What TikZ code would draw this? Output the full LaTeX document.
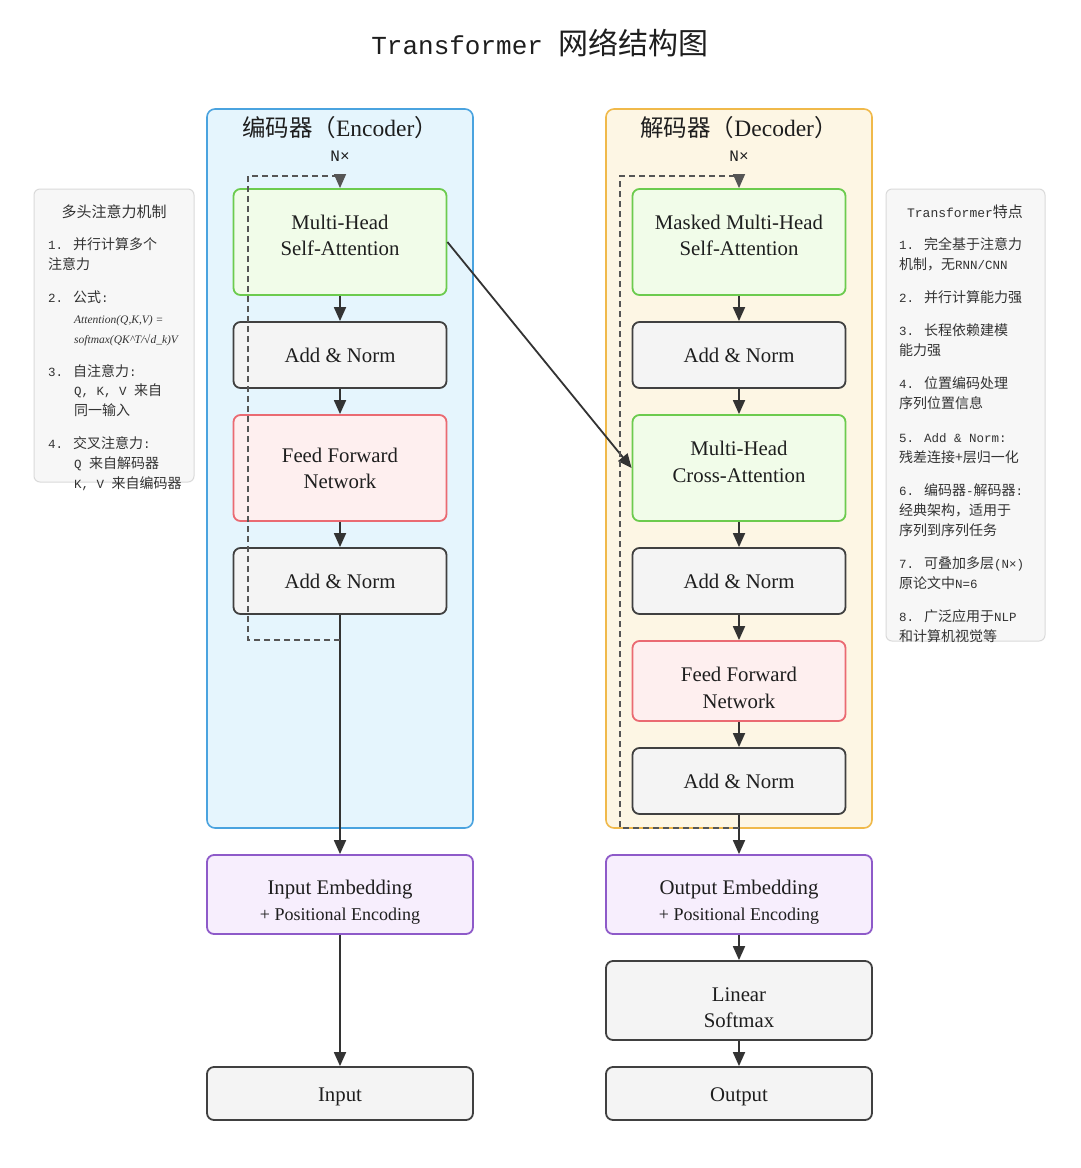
\documentclass[tikz,border=0pt]{standalone}
\usepackage{fontspec}
\setmainfont{Liberation Serif}
\newfontfamily\cjk{Noto Sans CJK SC}
\newfontfamily\mono{Liberation Mono}
\usetikzlibrary{arrows.meta}
\definecolor{encfill}{HTML}{E5F5FD}
\definecolor{encborder}{HTML}{4AA3DF}
\definecolor{decfill}{HTML}{FDF6E4}
\definecolor{decborder}{HTML}{F0B94A}
\definecolor{gfill}{HTML}{F1FCE9}
\definecolor{gborder}{HTML}{6CCB4E}
\definecolor{nfill}{HTML}{F4F4F4}
\definecolor{nborder}{HTML}{404040}
\definecolor{rfill}{HTML}{FEEFEF}
\definecolor{rborder}{HTML}{EA6A72}
\definecolor{pufill}{HTML}{F7EEFD}
\definecolor{puborder}{HTML}{8E5AC9}
\definecolor{pfill}{HTML}{F7F7F7}
\definecolor{pborder}{HTML}{DADADA}
\definecolor{arrc}{HTML}{333333}
\definecolor{dashc}{HTML}{555555}
\definecolor{txt}{HTML}{1E1E1E}
\definecolor{ptext}{HTML}{333333}
\newcommand\m[1]{{\mono\fontsize{12.5}{18}\selectfont #1}}
\newcommand\fm[1]{{\rmfamily\itshape\fontsize{11.5}{18}\selectfont #1}}
\begin{document}
\begin{tikzpicture}[x=1pt,y=-1pt,
  container/.style={draw, line width=1.6pt, rounded corners=8pt, inner sep=0, minimum width=266pt, minimum height=719pt},
  box/.style={draw, line width=1.8pt, rounded corners=7pt, inner sep=0, minimum width=213pt},
  widebox/.style={box, minimum width=266pt},
  gbox/.style={fill=gfill, draw=gborder},
  nbox/.style={fill=nfill, draw=nborder},
  rbox/.style={fill=rfill, draw=rborder},
  pubox/.style={fill=pufill, draw=puborder},
  tip/.style={-{Triangle[length=14pt,width=12pt]}},
  arr/.style={draw=arrc, line width=1.8pt, tip},
  loopline/.style={draw=dashc, line width=1.3pt, dash pattern=on 6pt off 4pt},
  lbl/.style={text=txt, inner sep=0, font=\fontsize{20.8}{26}\selectfont, text height=14pt, text depth=0pt},
  slbl/.style={text=txt, inner sep=0, font=\fontsize{18}{22}\selectfont, text height=12pt, text depth=0pt},
  panel/.style={draw=pborder, fill=pfill, line width=1pt, rounded corners=6pt, inner sep=0},
  ptitle/.style={text=ptext, inner sep=0, font=\cjk\fontsize{15}{18}\selectfont, text height=12pt, text depth=0pt},
  ptxt/.style={anchor=west, text=ptext, inner sep=0, font=\cjk\fontsize{14}{18}\selectfont, text height=11pt, text depth=0pt},
]
\fill[white] (0,0) rectangle (1080,1168);
\useasboundingbox (0,0) rectangle (1080,1168);

% title
\node[text=txt, inner sep=0, text height=18pt, text depth=0pt] (title) at (540,45)
  {{\mono\fontsize{26}{30}\selectfont Transformer }{\cjk\fontsize{30}{30}\selectfont 网络结构图}};

% containers
\node[container, fill=encfill, draw=encborder] (enc) at (340,468.5) {};
\node[container, fill=decfill, draw=decborder] (dec) at (739,468.5) {};
\node[text=txt, inner sep=0, text height=16pt, text depth=0pt] (enct) at (340,128)
  {\fontsize{23.5}{26}\selectfont{\cjk 编码器（}Encoder{\cjk ）}};
\node[text=txt, inner sep=0, text height=16pt, text depth=0pt] (dect) at (739,128)
  {\fontsize{23.5}{26}\selectfont{\cjk 解码器（}Decoder{\cjk ）}};
\node[text=txt, inner sep=0, text height=10pt, text depth=0pt] (encn) at (340,156)
  {\mono\fontsize{16}{18}\selectfont N×};
\node[text=txt, inner sep=0, text height=10pt, text depth=0pt] (decn) at (739,156)
  {\mono\fontsize{16}{18}\selectfont N×};

% encoder boxes
\node[box, gbox, minimum height=106pt] (eMHA) at (340,242) {};
\node[box, nbox, minimum height=66pt] (eAN1) at (340,355) {};
\node[box, rbox, minimum height=106pt] (eFFN) at (340,468) {};
\node[box, nbox, minimum height=66pt] (eAN2) at (340,581) {};
\node[lbl] (eMHAa) at (340,222) {Multi-Head};
\node[lbl] (eMHAb) at (340,248) {Self-Attention};
\node[lbl] (eAN1t) at (340,355) {Add \& Norm};
\node[lbl] (eFFNa) at (340,455) {Feed Forward};
\node[lbl] (eFFNb) at (340,481) {Network};
\node[lbl] (eAN2t) at (340,581) {Add \& Norm};

% decoder boxes
\node[box, gbox, minimum height=106pt] (dMMHA) at (739,242) {};
\node[box, nbox, minimum height=66pt] (dAN1) at (739,355) {};
\node[box, gbox, minimum height=106pt] (dCA) at (739,468) {};
\node[box, nbox, minimum height=66pt] (dAN2) at (739,581) {};
\node[box, rbox, minimum height=80pt] (dFFN) at (739,681) {};
\node[box, nbox, minimum height=66pt] (dAN3) at (739,781) {};
\node[lbl] (dMMHAa) at (739,222) {Masked Multi-Head};
\node[lbl] (dMMHAb) at (739,248) {Self-Attention};
\node[lbl] (dAN1t) at (739,355) {Add \& Norm};
\node[lbl] (dCAa) at (739,448) {Multi-Head};
\node[lbl] (dCAb) at (739,475) {Cross-Attention};
\node[lbl] (dAN2t) at (739,581) {Add \& Norm};
\node[lbl] (dFFNa) at (739,674) {Feed Forward};
\node[lbl] (dFFNb) at (739,701) {Network};
\node[lbl] (dAN3t) at (739,781) {Add \& Norm};

% bottom boxes
\node[widebox, pubox, minimum height=79pt] (inEmb) at (340,894.5) {};
\node[widebox, pubox, minimum height=79pt] (outEmb) at (739,894.5) {};
\node[widebox, nbox, minimum height=79pt] (lin) at (739,1000.5) {};
\node[widebox, nbox, minimum height=53pt] (inp) at (340,1093.5) {};
\node[widebox, nbox, minimum height=53pt] (outp) at (739,1093.5) {};
\node[lbl] (inEmba) at (340,887) {Input Embedding};
\node[slbl] (inEmbb) at (340,914) {+ Positional Encoding};
\node[lbl] (outEmba) at (739,887) {Output Embedding};
\node[slbl] (outEmbb) at (739,914) {+ Positional Encoding};
\node[lbl] (lina) at (739,994) {Linear};
\node[lbl] (linb) at (739,1020) {Softmax};
\node[lbl] (inpt) at (340,1094) {Input};
\node[lbl] (outpt) at (739,1094) {Output};

% arrows
\draw[arr] (eMHA) -- (eAN1);
\draw[arr] (eAN1) -- (eFFN);
\draw[arr] (eFFN) -- (eAN2);
\draw[arr] (eAN2) -- (inEmb);
\draw[arr] (inEmb) -- (inp);
\draw[arr] (dMMHA) -- (dAN1);
\draw[arr] (dAN1) -- (dCA);
\draw[arr] (dCA) -- (dAN2);
\draw[arr] (dAN2) -- (dFFN);
\draw[arr] (dFFN) -- (dAN3);
\draw[arr] (dAN3) -- (outEmb);
\draw[arr] (outEmb) -- (lin);
\draw[arr] (lin) -- (outp);
\draw[arr] (eMHA.east) -- (dCA.west);

% dashed loops
\coordinate (eLa) at (340,640);
\coordinate (eLb) at (248,640);
\coordinate (eLc) at (248,176);
\draw[loopline, tip] (eLa) -- (eLb) -- (eLc) -| (eMHA.north);
\coordinate (dLa) at (739,828);
\coordinate (dLb) at (620,828);
\coordinate (dLc) at (620,176);
\draw[loopline, tip] (dLa) -- (dLb) -- (dLc) -| (dMMHA.north);

% left panel
\node[panel, minimum width=160pt, minimum height=293pt] (lp) at (114,335.5) {};
\node[ptitle] (lpt) at (114,211) {多头注意力机制};
\node[ptxt] (l1a) at (48,244) {\m{1. }并行计算多个};
\node[ptxt] (l1b) at (48,264) {注意力};
\node[ptxt] (l2a) at (48,297) {\m{2. }公式\m{:}};
\node[ptxt] (l2b) at (74,318) {\fm{Attention(Q,K,V) =}};
\node[ptxt] (l2c) at (74,338) {\fm{softmax(QK\textasciicircum T/√d\_k)V}};
\node[ptxt] (l3a) at (48,371) {\m{3. }自注意力\m{:}};
\node[ptxt] (l3b) at (74,390) {\m{Q, K, V }来自};
\node[ptxt] (l3c) at (74,410) {同一输入};
\node[ptxt] (l4a) at (48,443) {\m{4. }交叉注意力\m{:}};
\node[ptxt] (l4b) at (74,463) {\m{Q }来自解码器};
\node[ptxt] (l4c) at (74,483) {\m{K, V }来自编码器};

% right panel
\node[panel, minimum width=159pt, minimum height=452pt] (rp) at (965.5,415) {};
\node[ptitle] (rpt) at (965,211) {{\mono\fontsize{13}{18}\selectfont Transformer}特点};
\node[ptxt] (r1a) at (899,244) {\m{1. }完全基于注意力};
\node[ptxt] (r1b) at (899,264) {机制，无\m{RNN/CNN}};
\node[ptxt] (r2a) at (899,297) {\m{2. }并行计算能力强};
\node[ptxt] (r3a) at (899,330) {\m{3. }长程依赖建模};
\node[ptxt] (r3b) at (899,350) {能力强};
\node[ptxt] (r4a) at (899,383) {\m{4. }位置编码处理};
\node[ptxt] (r4b) at (899,403) {序列位置信息};
\node[ptxt] (r5a) at (899,437) {\m{5. Add \& Norm:}};
\node[ptxt] (r5b) at (899,457) {残差连接+层归一化};
\node[ptxt] (r6a) at (899,490) {\m{6. }编码器\m{-}解码器\m{:}};
\node[ptxt] (r6b) at (899,510) {经典架构，适用于};
\node[ptxt] (r6c) at (899,530) {序列到序列任务};
\node[ptxt] (r7a) at (899,563) {\m{7. }可叠加多层\m{(N×)}};
\node[ptxt] (r7b) at (899,583) {原论文中\m{N=6}};
\node[ptxt] (r8a) at (899,616) {\m{8. }广泛应用于\m{NLP}};
\node[ptxt] (r8b) at (899,636) {和计算机视觉等};
\end{tikzpicture}
\end{document}
